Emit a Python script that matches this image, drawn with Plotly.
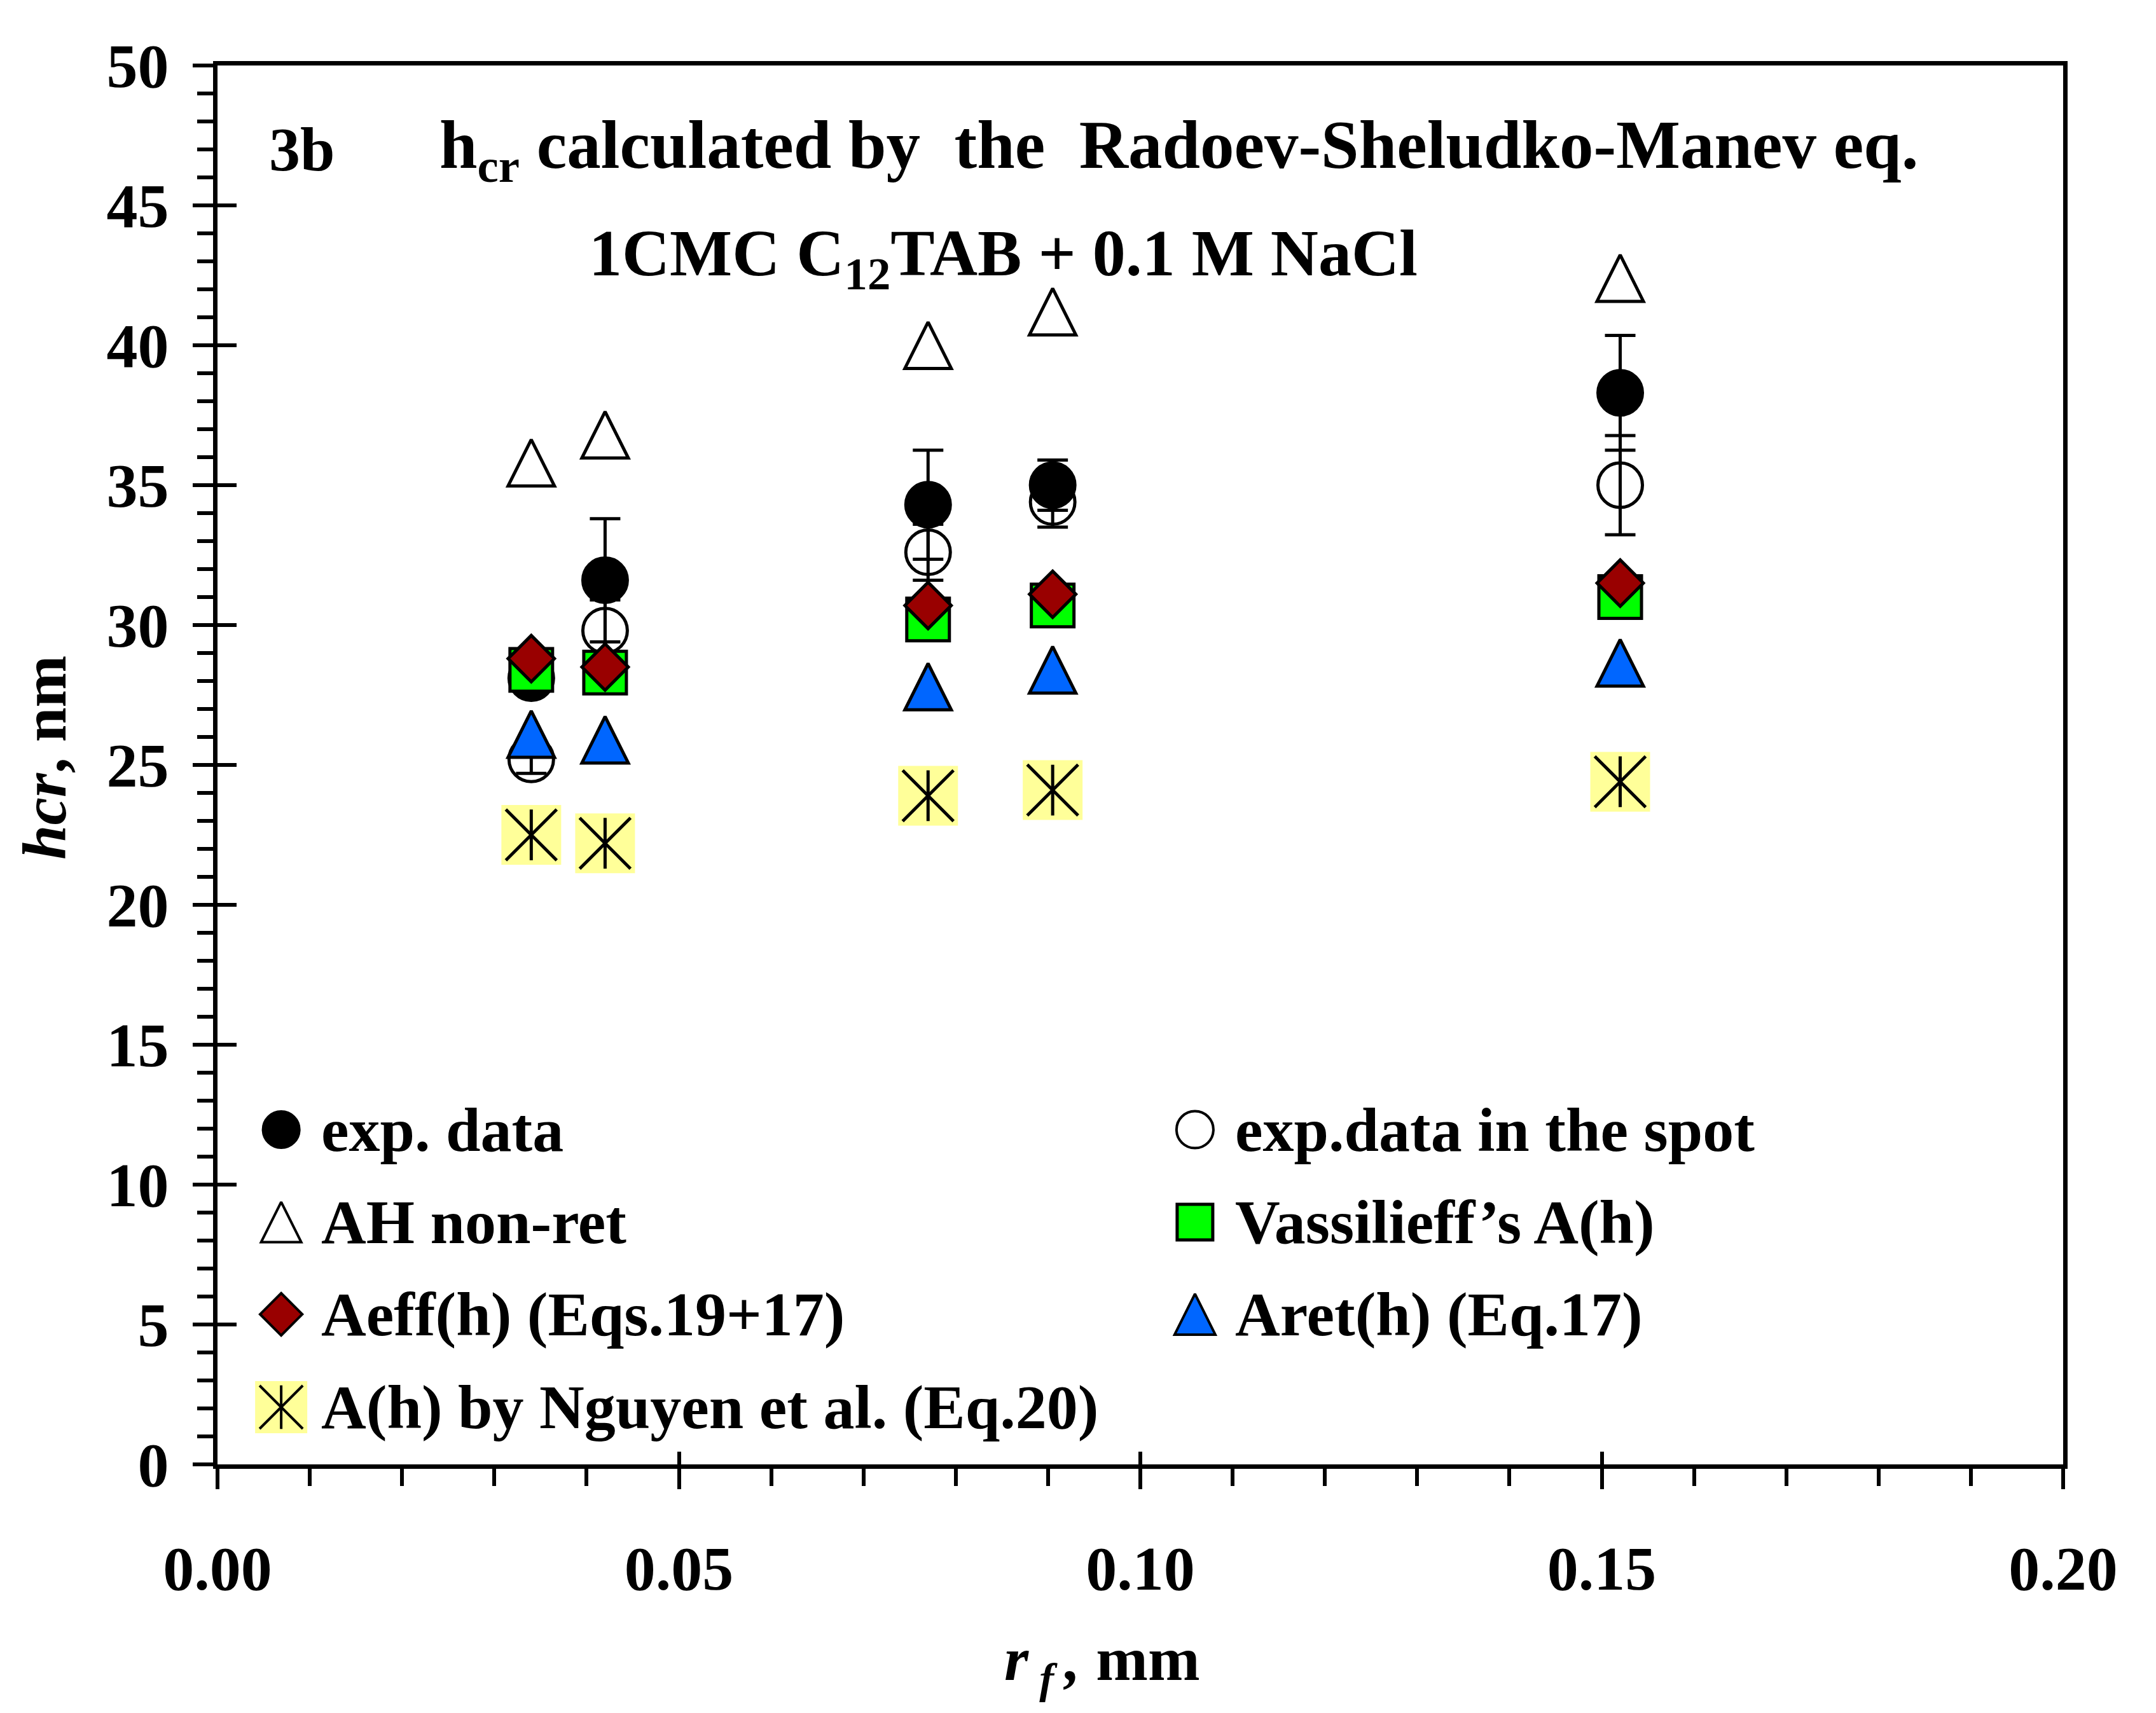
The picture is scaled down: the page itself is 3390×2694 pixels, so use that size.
import plotly.graph_objects as go

# ---------------- data ----------------
r_f = [0.034, 0.042, 0.077, 0.0905, 0.152]

exp_data = [28.1, 31.6, 34.3, 35.0, 38.3]
exp_data_err = [0.4, 2.2, 1.95, 0.9, 2.05]

exp_spot = [25.2, 29.8, 32.6, 34.4, 35.0]
exp_spot_err = [0.5, 1.1, 1.0, 0.9, 1.77]

ah_nonret = [35.8, 36.8, 40.0, 41.2, 42.4]
vassilieff = [28.4, 28.3, 30.2, 30.7, 31.0]
aeff = [28.8, 28.5, 30.7, 31.1, 31.5]
aret = [26.1, 25.9, 27.8, 28.4, 28.65]
nguyen = [22.5, 22.2, 23.9, 24.1, 24.4]

x_ticks = [0.0, 0.05, 0.10, 0.15, 0.20]
x_ticktext = ["0.00", "0.05", "0.10", "0.15", "0.20"]
y_ticks = [0, 5, 10, 15, 20, 25, 30, 35, 40, 45, 50]

legend_labels = ["exp. data", "AH non-ret", "Aeff(h) (Eqs.19+17)",
                 "A(h) by Nguyen et al. (Eq.20)",
                 "exp.data in the spot", "Vassilieff\u2019s A(h)", "Aret(h) (Eq.17)"]

# ---------------- styles ----------------
FONT = "Liberation Serif"
FS = 98
FS_TITLE1 = 107
FS_TITLE2 = 104
BLACK = "black"
GREEN = "#00FF00"
DRED = "#990000"
BLUE = "#0066FF"
YELLOW = "#FFFF99"

W, H = 3390, 2694
ML, MR, MT, MB = 342, 146, 103, 391

fig = go.Figure()

err_style = dict(type="data", visible=True, color=BLACK, thickness=5, width=24)


def tri(size, fill, lw):
    # upright triangle with equal width/height, centred on the point
    return dict(symbol="arrow-down", angle=180, standoff=size / 2, size=size,
                color=fill, line=dict(color=BLACK, width=lw))


# exp. data in the spot (open circles)
fig.add_trace(go.Scatter(
    x=r_f, y=exp_spot, mode="markers", name=legend_labels[4],
    marker=dict(symbol="circle-open", size=70, color=BLACK, line=dict(color=BLACK, width=5)),
    error_y=dict(array=exp_spot_err, **err_style), showlegend=False))

# exp. data (filled circles)
fig.add_trace(go.Scatter(
    x=r_f, y=exp_data, mode="markers", name=legend_labels[0],
    marker=dict(symbol="circle", size=72, color=BLACK, line=dict(color=BLACK, width=3)),
    error_y=dict(array=exp_data_err, **err_style), showlegend=False))

# AH non-ret (open triangles)
fig.add_trace(go.Scatter(
    x=r_f, y=ah_nonret, mode="markers", name=legend_labels[1],
    marker=tri(73, "white", 5), showlegend=False))

# Vassilieff (green squares)
fig.add_trace(go.Scatter(
    x=r_f, y=vassilieff, mode="markers", name=legend_labels[5],
    marker=dict(symbol="square", size=67, color=GREEN, line=dict(color=BLACK, width=5)),
    showlegend=False))

# Aeff (dark red diamonds)
fig.add_trace(go.Scatter(
    x=r_f, y=aeff, mode="markers", name=legend_labels[2],
    marker=dict(symbol="diamond", size=56, color=DRED, line=dict(color=BLACK, width=5)),
    showlegend=False))

# Aret (blue triangles)
fig.add_trace(go.Scatter(
    x=r_f, y=aret, mode="markers", name=legend_labels[6],
    marker=tri(73, BLUE, 5), showlegend=False))

# Nguyen: yellow square + X + vertical bar
fig.add_trace(go.Scatter(
    x=r_f, y=nguyen, mode="markers", name=legend_labels[3],
    marker=dict(symbol="square", size=94, color=YELLOW, line=dict(width=0)), showlegend=False))
fig.add_trace(go.Scatter(
    x=r_f, y=nguyen, mode="markers", showlegend=False, hoverinfo="skip",
    marker=dict(symbol="x-thin-open", size=80, color=BLACK, line=dict(color=BLACK, width=5))))
fig.add_trace(go.Scatter(
    x=r_f, y=nguyen, mode="markers", showlegend=False, hoverinfo="skip",
    marker=dict(symbol="line-ns-open", size=57, color=BLACK, line=dict(color=BLACK, width=5))))

# ---------------- custom legend (key glyphs on a 0..1 helper axis) ----------------
LEG_COL_X = [0.0345, 0.5296]
LEG_TEXT_X = [0.0555, 0.5508]
LEG_ROW_Y = [0.2393, 0.1732, 0.1073, 0.0409]

legend_glyphs = [
    (0, 0, [dict(symbol="circle", size=58, color=BLACK, line=dict(color=BLACK, width=3))]),
    (0, 1, [tri(63, "white", 4)]),
    (0, 2, [dict(symbol="diamond", size=51, color=DRED, line=dict(color=BLACK, width=4))]),
    (0, 3, [dict(symbol="square", size=82, color=YELLOW, line=dict(width=0)),
            dict(symbol="x-thin-open", size=68, color=BLACK, line=dict(color=BLACK, width=4)),
            dict(symbol="line-ns-open", size=49, color=BLACK, line=dict(color=BLACK, width=4))]),
    (1, 0, [dict(symbol="circle-open", size=58, color=BLACK, line=dict(color=BLACK, width=4))]),
    (1, 1, [dict(symbol="square", size=56, color=GREEN, line=dict(color=BLACK, width=5))]),
    (1, 2, [tri(64, BLUE, 4)]),
]
for col, row, mks in legend_glyphs:
    for mk in mks:
        fig.add_trace(go.Scatter(
            x=[LEG_COL_X[col]], y=[LEG_ROW_Y[row]], xaxis="x2", yaxis="y2",
            mode="markers", marker=mk, showlegend=False, hoverinfo="skip"))

legend_pos = [(0, 0), (0, 1), (0, 2), (0, 3), (1, 0), (1, 1), (1, 2)]
annotations = []
for lab, (col, row) in zip(legend_labels, legend_pos):
    annotations.append(dict(
        text=lab, x=LEG_TEXT_X[col], y=LEG_ROW_Y[row], xref="paper", yref="paper",
        xanchor="left", yanchor="middle", showarrow=False,
        font=dict(family=FONT, size=FS, color=BLACK, weight="bold")))

# dummy trace for inside-tick helper axes
fig.add_trace(go.Scatter(x=[None], y=[None], xaxis="x3", yaxis="y3",
                         showlegend=False, hoverinfo="skip"))

# ---------------- titles ----------------
annotations += [
    dict(text="3b", x=0.0272, y=0.940, xref="paper", yref="paper",
         xanchor="left", yanchor="middle", showarrow=False,
         font=dict(family=FONT, size=FS, color=BLACK, weight="bold")),
    dict(text="h<sub>cr</sub> calculated by \u00a0the \u00a0Radoev-Sheludko-Manev eq.",
         x=0.1196, y=0.940, xref="paper", yref="paper",
         xanchor="left", yanchor="middle", showarrow=False,
         font=dict(family=FONT, size=FS_TITLE1, color=BLACK, weight="bold")),
    dict(text="1CMC C<sub>12</sub>TAB + 0.1 M NaCl",
         x=0.4259, y=0.8627, xref="paper", yref="paper",
         xanchor="center", yanchor="middle", showarrow=False,
         font=dict(family=FONT, size=FS_TITLE2, color=BLACK, weight="bold")),
    # axis titles
    dict(text="<i>hcr</i>, nm", x=-0.0937, y=0.505, xref="paper", yref="paper",
         xanchor="center", yanchor="middle", textangle=-90, showarrow=False,
         font=dict(family=FONT, size=FS, color=BLACK, weight="bold")),
    dict(text="<i>r</i><sub> <i>f</i> </sub><i>,</i> mm", x=0.4793, y=-0.1425,
         xref="paper", yref="paper",
         xanchor="center", yanchor="middle", showarrow=False,
         font=dict(family=FONT, size=FS, color=BLACK, weight="bold")),
]

tickfont = dict(family=FONT, size=FS, color=BLACK, weight="bold")

fig.update_layout(
    width=W, height=H,
    margin=dict(l=ML, r=MR, t=MT, b=MB, pad=0),
    paper_bgcolor="white", plot_bgcolor="white",
    showlegend=False,
    annotations=annotations,
    xaxis=dict(range=[0, 0.2], tickvals=x_ticks, ticktext=x_ticktext,
               showgrid=False, zeroline=False, showline=True, linecolor=BLACK,
               linewidth=7, mirror=True, ticks="outside", ticklen=32, tickwidth=6,
               tickcolor=BLACK, tickfont=tickfont, ticklabelstandoff=40,
               minor=dict(dtick=0.01, ticks="outside", ticklen=27, tickwidth=6,
                          tickcolor=BLACK, showgrid=False)),
    yaxis=dict(range=[0, 50], tickvals=y_ticks,
               showgrid=False, zeroline=False, showline=True, linecolor=BLACK,
               linewidth=7, mirror=True, ticks="outside", ticklen=32, tickwidth=6,
               tickcolor=BLACK, tickfont=tickfont, ticklabelstandoff=18,
               minor=dict(dtick=1, ticks="outside", ticklen=25, tickwidth=6,
                          tickcolor=BLACK, showgrid=False)),
    xaxis2=dict(range=[0, 1], overlaying="x", visible=False, fixedrange=True),
    yaxis2=dict(range=[0, 1], overlaying="y", visible=False, fixedrange=True),
    xaxis3=dict(range=[0, 0.2], overlaying="x", tickvals=x_ticks[1:-1], ticks="inside",
                ticklen=20, tickwidth=6, tickcolor=BLACK, showticklabels=False,
                showgrid=False, zeroline=False, showline=False),
    yaxis3=dict(range=[0, 50], overlaying="y", tickvals=y_ticks[1:-1], ticks="inside",
                ticklen=30, tickwidth=6, tickcolor=BLACK, showticklabels=False,
                showgrid=False, zeroline=False, showline=False),
)

fig.write_html("out.html", config={"displayModeBar": False},
               post_script="document.body.style.margin='0';document.body.style.overflow='hidden';")
